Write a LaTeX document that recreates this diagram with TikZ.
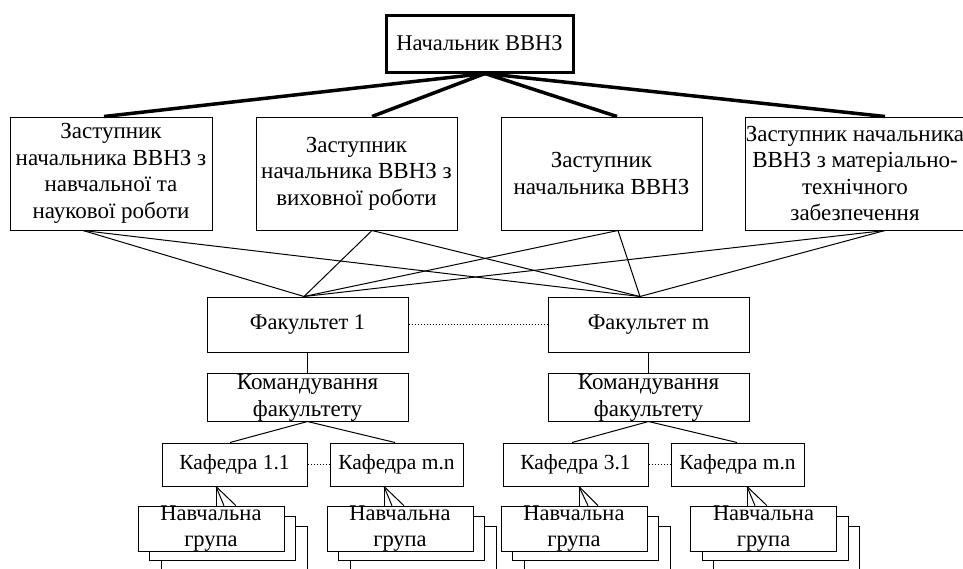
\documentclass[tikz,border=0pt]{standalone}
\usepackage{fontspec}
\setmainfont{Liberation Serif}
\newcommand\grpstack[3]{%
  \node[box, gbox] (#1c) at ({#2+23},{#3+19}) {};
  \node[box, gbox] (#1b) at ({#2+11.5},{#3+9.5}) {};
  \node[box, gbox, font=\fontsize{22.5}{26}\selectfont] (#1) at (#2,#3) {Навчальна\\група};}
\begin{document}
\begin{tikzpicture}[x=1pt,y=-1pt,
  box/.style={draw, line width=1pt, inner sep=0pt, align=center, fill=white},
  topbox/.style={box, line width=3pt, minimum width=187pt, minimum height=57pt, font=\fontsize{22.5}{26}\selectfont},
  depbox/.style={box, minimum width=201pt, minimum height=113pt, font=\fontsize{23}{26.5}\selectfont},
  facbox/.style={box, minimum width=201pt, minimum height=55pt, font=\fontsize{22.4}{26}\selectfont},
  cmdbox/.style={box, minimum width=201pt, minimum height=45pt, font=\fontsize{23}{27}\selectfont},
  kafbox/.style={box, minimum height=43pt, font=\fontsize{21.5}{26}\selectfont},
  gbox/.style={minimum width=146pt, minimum height=44pt},
  thickln/.style={line width=3.5pt},
  thinln/.style={line width=1pt},
  dotln/.style={line width=1pt, dotted}]
\useasboundingbox (0,0) rectangle (963,568);
\clip (0,0) rectangle (963,568);
\fill[white] (0,0) rectangle (963,568);

% top
\node[topbox] (top) at (479.5,43.5) {Начальник ВВНЗ};

% deputies
\node[depbox, minimum width=202pt] (b1) at (111,173.5) {Заступник\\начальника ВВНЗ з\\навчальної та\\наукової роботи};
\node[depbox] (b2) at (356.5,173.5) {Заступник\\начальника ВВНЗ з\\виховної роботи};
\node[depbox] (b3) at (601.5,173.5) {Заступник\\начальника ВВНЗ};
\node[depbox, minimum width=218pt] (b4) at (855,173.5) {Заступник начальника\\ВВНЗ з матеріально-\\технічного\\забезпечення};

\draw[thickln] ([xshift=5.5pt]top.south) -- ([xshift=-7pt]b1.north);
\draw[thickln] ([xshift=5.5pt]top.south) -- ([xshift=15.5pt]b2.north);
\draw[thickln] ([xshift=5.5pt]top.south) -- ([xshift=15.5pt]b3.north);
\draw[thickln] ([xshift=5.5pt]top.south) -- ([xshift=30pt]b4.north);

% faculties
\node[facbox] (f1) at (307.5,324.5) {Факультет 1};
\node[facbox] (fm) at (648.5,324.5) {Факультет m};
\draw[dotln] (f1.east) -- (fm.west);

\foreach \b/\s in {b1/-28, b2/15.5, b3/16.5, b4/30} {
  \draw[thinln] ([xshift=\s pt]\b.south) -- ([xshift=-3.5pt]f1.north);
  \draw[thinln] ([xshift=\s pt]\b.south) -- ([xshift=-8.5pt]fm.north);
}

% command
\node[cmdbox] (c1) at (307.5,397.5) {Командування\\факультету};
\node[cmdbox] (cm) at (648.5,397.5) {Командування\\факультету};
\draw[thinln] (f1.south) -- (c1.north);
\draw[thinln] (fm.south) -- (cm.north);

% departments
\node[kafbox, minimum width=145pt] (k1) at (234.5,464.5) {Кафедра 1.1};
\node[kafbox, minimum width=133pt] (k2) at (396.5,464.5) {Кафедра m.n};
\node[kafbox, minimum width=145pt] (k3) at (575.5,464.5) {Кафедра 3.1};
\node[kafbox, minimum width=133pt] (k4) at (737.5,464.5) {Кафедра m.n};
\draw[thinln] (c1.south) -- ([xshift=-4.5pt]k1.north);
\draw[thinln] (c1.south) -- ([xshift=-1.5pt]k2.north);
\draw[thinln] (cm.south) -- ([xshift=-3.5pt]k3.north);
\draw[thinln] (cm.south) -- ([xshift=-0.5pt]k4.north);
\draw[dotln] (k1.east) -- (k2.west);
\draw[dotln] (k3.east) -- (k4.west);

% groups
\grpstack{g1}{211}{529}
\grpstack{g2}{400}{529}
\grpstack{g3}{574}{529}
\grpstack{g4}{763.5}{529}

\foreach \k/\g/\s/\a/\bb/\cc in {k1/g1/-18.5/5/13/25, k2/g2/-12.5/-16/-8/4, k3/g3/3.5/5/14/24, k4/g4/9.5/-16.5/-8.5/3.5} {
  \draw[thinln] ([xshift=\s pt]\k.south) -- ([xshift=\a pt]\g.north);
  \draw[thinln] ([xshift=\s pt]\k.south) -- ([xshift=\bb pt]\g.north);
  \draw[thinln] ([xshift=\s pt]\k.south) -- ([xshift=\cc pt]\g.north);
}
\end{tikzpicture}
\end{document}
